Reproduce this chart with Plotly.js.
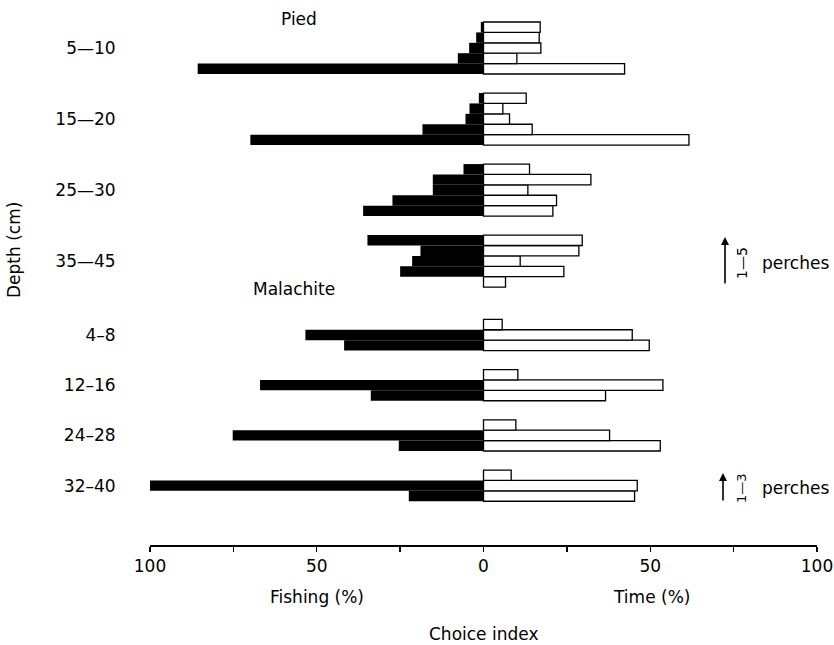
<!DOCTYPE html>
<html><head><meta charset="utf-8">
<script src="https://cdn.plot.ly/plotly-3.0.1.min.js"></script>
<style>body{margin:0;background:#fff}</style>
</head><body><div id="chart" style="width:834px;height:645px"></div>
<script>
// Depth classes (cm)
const piedDepths = ["5—10", "15—20", "25—30", "35—45"];
const malachiteDepths = ["4–8", "12–16", "24–28", "32–40"];

// Pied kingfisher: values per perch, perch 1 (bottom) -> perch 5 (top)
const piedFishing_5_10  = [85.7, 7.7, 4.3, 2.2, 0.8];
const piedTime_5_10     = [42.3, 10.0, 17.2, 16.7, 17.0];
const piedFishing_15_20 = [69.9, 18.3, 5.4, 4.2, 1.4];
const piedTime_15_20    = [61.6, 14.6, 7.8, 5.8, 12.8];
const piedFishing_25_30 = [36.1, 27.3, 15.2, 15.2, 6.0];
const piedTime_25_30    = [20.8, 21.9, 13.3, 32.2, 13.8];
const piedFishing_35_45 = [0, 25.0, 21.4, 18.9, 34.8];
const piedTime_35_45    = [6.6, 24.1, 11.0, 28.6, 29.6];

// Malachite kingfisher: perch 1 (bottom) -> perch 3 (top)
const malFishing_4_8    = [41.8, 53.4, 0];
const malTime_4_8       = [49.7, 44.6, 5.6];
const malFishing_12_16  = [33.8, 67.0, 0];
const malTime_12_16     = [36.6, 53.8, 10.3];
const malFishing_24_28  = [25.4, 75.2, 0];
const malTime_24_28     = [53.0, 37.8, 9.7];
const malFishing_32_40  = [22.4, 100, 0];
const malTime_32_40     = [45.3, 46.1, 8.3];

const xTickVals = [-100, -75, -50, -25, 0, 25, 50, 75, 100];
const xTickText = ["100", "", "50", "", "0", "", "50", "", "100"];

// ---- layout helpers (row units) ----
const GAP = 1.83;
const MAL_START = 28.59;
const groups = [];
const piedF = [piedFishing_5_10, piedFishing_15_20, piedFishing_25_30, piedFishing_35_45];
const piedT = [piedTime_5_10, piedTime_15_20, piedTime_25_30, piedTime_35_45];
const malF = [malFishing_4_8, malFishing_12_16, malFishing_24_28, malFishing_32_40];
const malT = [malTime_4_8, malTime_12_16, malTime_24_28, malTime_32_40];
piedDepths.forEach((d, g) => groups.push({label: d, top: g * (5 + GAP), f: piedF[g], t: piedT[g]}));
malachiteDepths.forEach((d, g) => groups.push({label: d, top: MAL_START + g * (3 + GAP), f: malF[g], t: malT[g]}));

const ys = [], fx = [], tx = [], centers = [], labels = [];
groups.forEach(gr => {
  const n = gr.f.length;
  for (let p = 0; p < n; p++) {
    const rowFromTop = n - 1 - p;
    ys.push(gr.top + rowFromTop + 0.5);
    fx.push(-gr.f[p]);
    tx.push(gr.t[p]);
  }
  centers.push(gr.top + n / 2);
  labels.push(gr.label);
});

const FONT = "DejaVu Sans";
const traces = [
  {type: "bar", orientation: "h", y: ys, x: fx, width: 1,
   marker: {color: "#000", line: {width: 0}}, hoverinfo: "skip"},
  {type: "bar", orientation: "h", y: ys, x: tx, width: 1,
   marker: {color: "#fff", line: {color: "#000", width: 1.3}}, hoverinfo: "skip"}
];

// pixel helpers for paper coords
const L = 150, R = 817, T = 10, B = 545;
const px = p => (p - L) / (R - L);
const py = p => (B - p) / (B - T);
const note = (text, x, y, extra) => Object.assign({text, xref: "paper", yref: "paper",
  x: px(x), y: py(y), xanchor: "center", yanchor: "middle", showarrow: false, font: {size: 17}}, extra || {});

const layout = {
  width: 834, height: 645,
  margin: {l: L, r: 834 - R, t: T, b: 645 - B},
  paper_bgcolor: "#fff", plot_bgcolor: "#fff",
  barmode: "overlay", showlegend: false,
  font: {family: FONT, color: "#000", size: 17},
  xaxis: {range: [-100, 100], tickvals: xTickVals, ticktext: xTickText,
    ticks: "outside", ticklen: 5, tickwidth: 1.3, tickcolor: "#000",
    showline: true, linewidth: 1.5, linecolor: "#000",
    showgrid: false, zeroline: false, tickfont: {size: 17}, fixedrange: true},
  yaxis: {range: [(B - 22) / 10.4, (T - 22) / 10.4], tickvals: centers, ticktext: labels,
    ticks: "outside", ticklen: 30, tickcolor: "rgba(0,0,0,0)",
    showline: false, showgrid: false, zeroline: false, tickfont: {size: 17}, fixedrange: true},
  annotations: [
    note("Pied", 299, 19),
    note("Malachite", 294, 289),
    note("Fishing (%)", 317, 597),
    note("Time (%)", 651, 597),
    note("Choice index", 484, 634),
    note("Depth (cm)", 14, 250, {textangle: -90}),
    note("perches", 760, 263, {xanchor: "left"}),
    note("perches", 760, 488, {xanchor: "left"}),
    note("1—5", 742, 263, {textangle: -90, font: {size: 14}}),
    note("1—3", 741, 488, {textangle: -90, font: {size: 13}}),
    {text: "", xref: "paper", yref: "paper", x: px(725), y: py(237), ax: 0, ay: 48, showarrow: true,
     arrowhead: 2, arrowsize: 1, arrowwidth: 1.6, arrowcolor: "#000"},
    {text: "", xref: "paper", yref: "paper", x: px(723), y: py(473), ax: 0, ay: 29, showarrow: true,
     arrowhead: 2, arrowsize: 1, arrowwidth: 1.6, arrowcolor: "#000"}
  ]
};

Plotly.newPlot("chart", traces, layout, {staticPlot: true, displayModeBar: false});
</script></body></html>
